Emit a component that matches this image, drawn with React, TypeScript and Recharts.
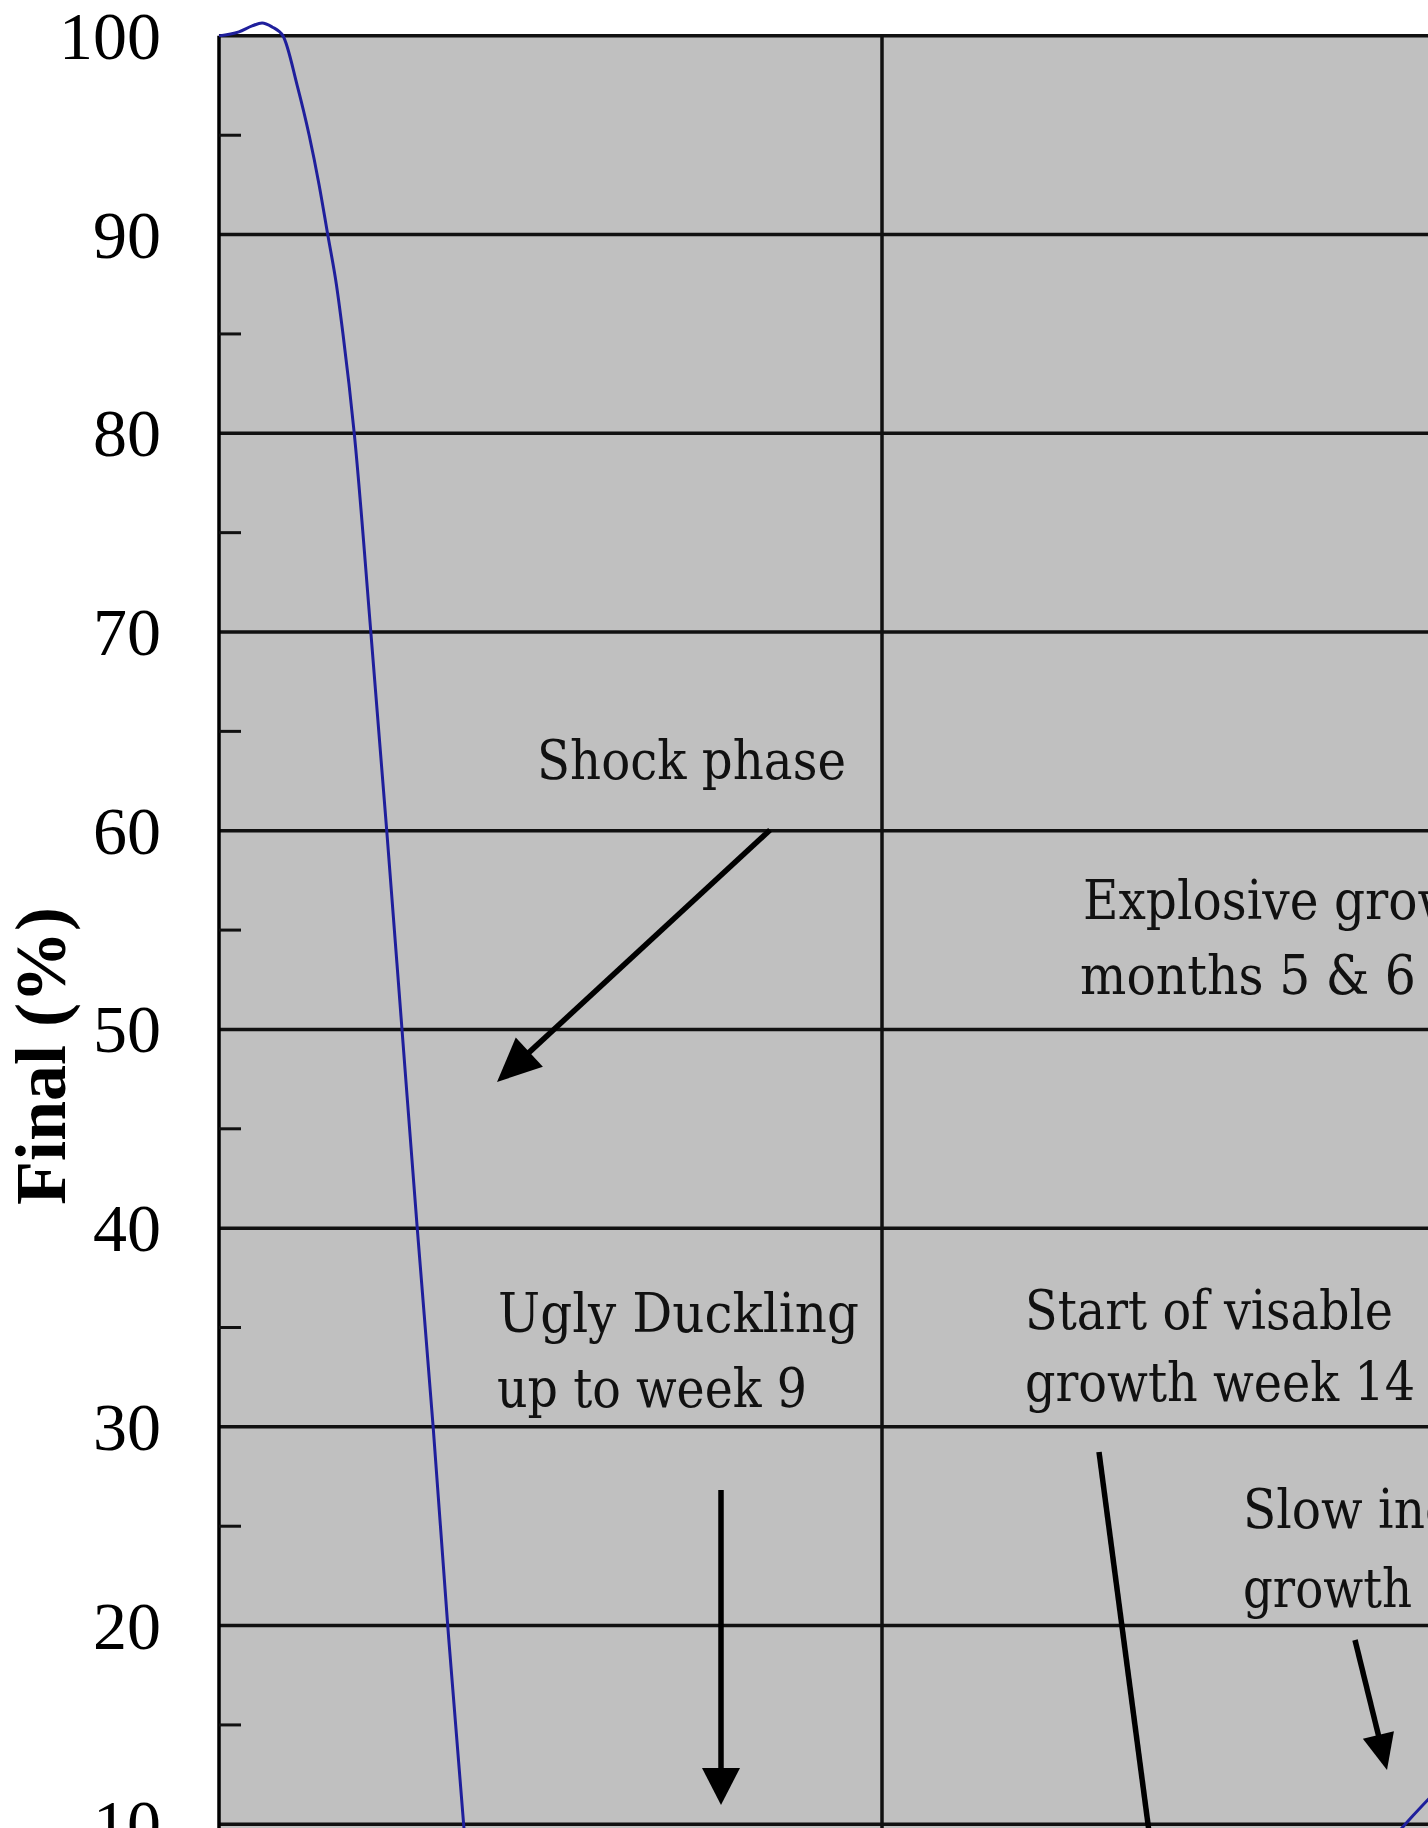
import React from "react";
import { LineChart, Line, XAxis, YAxis, ReferenceArea, ReferenceLine } from "recharts";

// weeks after the procedure and the share of the final result (%)
const weeks = [0, 0.3, 0.5, 0.65, 0.8, 0.965, 1.18, 1.36, 1.51, 1.64, 1.77, 1.87, 1.96, 2.04, 2.29, 2.53, 2.76, 2.99, 3.23, 3.45, 3.69, 3.9, 4.2, 6, 9, 12, 14, 16, 17, 18, 20, 22, 24, 26, 28, 30];
const finalPct = [100, 100.2, 100.5, 100.65, 100.45, 100, 97.5, 95, 92.5, 90, 87.5, 85, 82.5, 80, 70, 60, 50, 40, 30, 20, 10, 3, 0, 0, 0, 0.5, 2, 4.5, 6.8, 10.4, 18, 30, 45, 60, 70, 76];

const majorTicks = [0, 10, 20, 30, 40, 50, 60, 70, 80, 90, 100];
const minorTicks = [5, 15, 25, 35, 45, 55, 65, 75, 85, 95];
const weekGrid = [10, 20, 30];

const data = weeks.map((w, i) => ({ week: w, pct: finalPct[i] }));

const TICK_MARGIN = 58;
const SERIF = "'Liberation Serif', 'Times New Roman', serif";
const NOTE_FONT = "'DejaVu Serif', serif";

// len = width of the line in the reference; lines running off the edge keep a plain squeeze
const notes = [
  { text: "Shock phase", x: 537, y: 779, len: 309 },
  { text: "Explosive growth", x: 1083, y: 919, len: 0 },
  { text: "months 5 & 6", x: 1080, y: 994, len: 336 },
  { text: "Ugly Duckling", x: 498, y: 1332, len: 361 },
  { text: "up to week 9", x: 497, y: 1407, len: 310 },
  { text: "Start of visable", x: 1025, y: 1329, len: 368 },
  { text: "growth week 14", x: 1025, y: 1401, len: 390 },
  { text: "Slow increase in", x: 1243, y: 1528, len: 0 },
  { text: "growth", x: 1243, y: 1607, len: 169 },
];

const arrows = [
  { x1: 770, y1: 830, x2: 497, y2: 1082, head: 44, half: 20 },
  { x1: 721, y1: 1490, x2: 721, y2: 1805, head: 37, half: 19 },
  { x1: 1099, y1: 1452, x2: 1158, y2: 1900, head: 37, half: 19 },
  { x1: 1355, y1: 1640, x2: 1387, y2: 1770, head: 36, half: 16 },
];

const YTick = ({ x, y, payload }: any) => {
  const v = payload.value;
  if (v % 10 === 0) {
    return (
      <text x={x} y={y} dy={23} textAnchor="end" fontFamily={SERIF} fontSize={68} fill="#000">
        {v}
      </text>
    );
  }
  const ax = x + TICK_MARGIN;
  return <line x1={ax} x2={ax + 22} y1={y} y2={y} stroke="#111" strokeWidth={3} />;
};

const Arrow = ({ x1, y1, x2, y2, head, half }: any) => {
  const dx = x2 - x1;
  const dy = y2 - y1;
  const len = Math.sqrt(dx * dx + dy * dy);
  const ux = dx / len;
  const uy = dy / len;
  const bx = x2 - ux * head;
  const by = y2 - uy * head;
  const pts = `${x2},${y2} ${bx - uy * half},${by + ux * half} ${bx + uy * half},${by - ux * half}`;
  return (
    <g>
      <line x1={x1} y1={y1} x2={bx + ux * 4} y2={by + uy * 4} stroke="#000" strokeWidth={5.5} />
      <polygon points={pts} fill="#000" />
    </g>
  );
};

export default function App() {
  return (
    <div
      style={{
        position: "absolute",
        left: 0,
        top: 0,
        width: 1428,
        height: 1828,
        overflow: "hidden",
        background: "#fff",
      }}
    >
      <LineChart width={2213} height={2028} data={data} margin={{ top: 16, right: 5, bottom: 5, left: 0 }}>
        <XAxis dataKey="week" type="number" domain={[0, 30]} hide />
        <YAxis
          type="number"
          domain={[0, 101]}
          ticks={[...majorTicks, ...minorTicks]}
          width={219}
          axisLine={false}
          tickLine={false}
          tickSize={0}
          tickMargin={TICK_MARGIN}
          tick={<YTick />}
          interval={0}
          label={{
            content: () => (
              <text
                x={65}
                y={1056}
                transform="rotate(-90, 65, 1056)"
                textAnchor="middle"
                fontFamily={SERIF}
                fontWeight="bold"
                fontSize={72}
                fill="#000"
              >
                Final (%)
              </text>
            ),
          }}
        />
        <ReferenceArea x1={0} x2={30} y1={0} y2={100} fill="#c0c0c0" fillOpacity={1} stroke="none" />
        {majorTicks.map((v) => (
          <ReferenceLine key={`h-${v}`} y={v} stroke="#111" strokeWidth={3.5} />
        ))}
        {weekGrid.map((w) => (
          <ReferenceLine
            key={`v-${w}`}
            segment={[{ x: w, y: 0 }, { x: w, y: 100 }]}
            stroke="#111"
            strokeWidth={3.5}
          />
        ))}
        <ReferenceLine segment={[{ x: 0, y: 0 }, { x: 0, y: 100 }]} stroke="#000" strokeWidth={3.5} />
        <Line
          dataKey="pct"
          type="monotone"
          stroke="#1f1f9c"
          strokeWidth={3}
          dot={false}
          isAnimationActive={false}
        />
      </LineChart>

      {/* callouts drawn over the plot */}
      <svg width={1428} height={1828} style={{ position: "absolute", left: 0, top: 0, pointerEvents: "none" }}>
        {notes.map((n, i) =>
          n.len > 0 ? (
            <text
              key={i}
              x={n.x}
              y={n.y}
              textLength={n.len}
              lengthAdjust="spacingAndGlyphs"
              fontFamily={NOTE_FONT}
              fontSize={54}
              fill="#111"
            >
              {n.text}
            </text>
          ) : (
            <text
              key={i}
              transform={`translate(${n.x}, ${n.y}) scale(0.9, 1)`}
              fontFamily={NOTE_FONT}
              fontSize={54}
              fill="#111"
            >
              {n.text}
            </text>
          )
        )}
        {arrows.map((a, i) => (
          <Arrow key={i} {...a} />
        ))}
      </svg>
    </div>
  );
}
